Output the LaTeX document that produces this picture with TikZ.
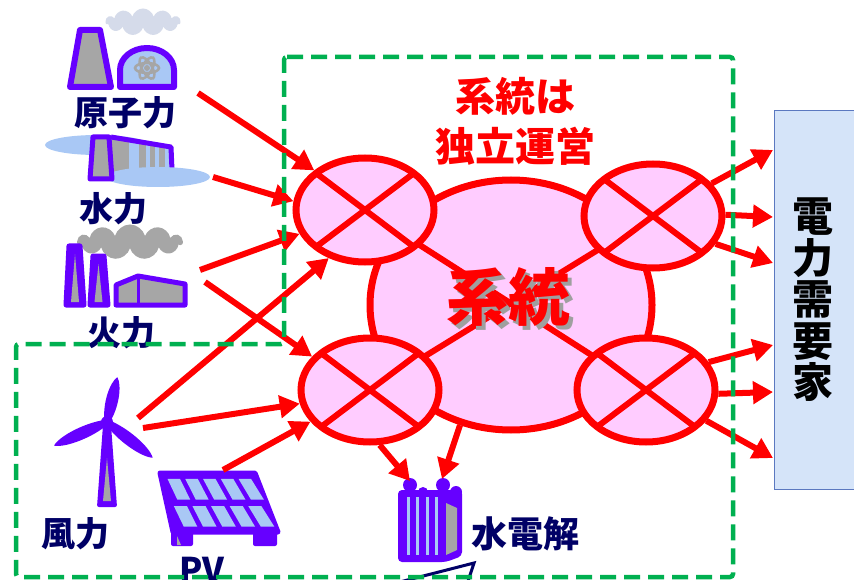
\documentclass[tikz,border=0pt]{standalone}
\usepackage{fontspec}
\setmainfont{Noto Sans CJK JP}
\usetikzlibrary{arrows.meta,shapes.geometric,shapes.symbols,calc}

\definecolor{gridred}{HTML}{FF0000}
\definecolor{busfill}{HTML}{FFCCFF}
\definecolor{zonegreen}{HTML}{00B050}
\definecolor{iconpurple}{HTML}{6600FF}
\definecolor{icongray}{HTML}{A6A6A6}
\definecolor{iconblue}{HTML}{A9C8F5}
\definecolor{labelnavy}{HTML}{000066}
\definecolor{demandfill}{HTML}{D5E4F9}
\definecolor{demandedge}{HTML}{5B78C0}
\definecolor{cloudgray}{HTML}{D5DBEA}

\tikzset{
  flow/.style={draw=gridred, line width=6pt, -{Triangle[length=20pt,width=22pt]}},
  bus/.style={ellipse, draw=gridred, fill=busfill, line width=7pt,
    minimum width=138pt, minimum height=104pt, inner sep=0pt},
  busline/.style={draw=gridred, line width=6pt},
  srclabel/.style={text=labelnavy, inner sep=0pt,
    font=\bfseries\fontsize{34pt}{40pt}\selectfont},
  iconline/.style={draw=iconpurple, line width=5pt, line join=round},
  puff/.style={cloud, cloud puffs=11, aspect=3, inner sep=0pt}
}

\begin{document}
\begin{tikzpicture}[x=1pt,y=-1pt]
\clip (0,0) rectangle (854,580);
\fill[white] (0,0) rectangle (854,580);

% ---------- nuclear ----------
\node[puff, fill=cloudgray, minimum width=75pt, minimum height=27pt] (nuccloud) at (143,22) {};
\draw[iconline, line width=6pt, fill=icongray] (80,30) -- (100,30) -- (111,87) -- (70,87) -- cycle;
\draw[iconline, line width=6pt, fill=iconblue] (120,87) -- (120,70)
  arc[start angle=180, end angle=0, x radius=27pt, y radius=22pt] -- (174,87) -- cycle;
\begin{scope}[shift={(147,68)}]
  \foreach \a in {0,60,120}
    \draw[icongray, line width=2.5pt, rotate=\a] (0,0) ellipse[x radius=12pt, y radius=5pt];
  \fill[icongray] (0,0) circle[radius=3pt];
\end{scope}
\node[srclabel] (lnuc) at (125,113) {原子力};

% ---------- hydro ----------
\fill[iconblue] (97,145) ellipse[x radius=52pt, y radius=10pt];
\fill[iconblue] (111,137) -- (171,147) -- (172,170) -- (111,180) -- cycle;
\begin{scope}
  \clip (111,137) -- (171,147) -- (172,170) -- (111,180) -- cycle;
  \fill[icongray] (112,130) rectangle (129,185);
  \fill[icongray] (139,130) rectangle (146,185);
  \fill[icongray] (150,130) rectangle (155,185);
  \fill[icongray] (159,130) rectangle (165,185);
\end{scope}
\draw[iconline] (111,137) -- (171,147) -- (172,170);
\fill[iconblue] (158,177) ellipse[x radius=52pt, y radius=10pt];
\draw[iconline, fill=icongray] (93,137) -- (109,137) -- (112,179) -- (90,179) -- cycle;
\node[srclabel] (lhyd) at (113,209) {水力};

% ---------- thermal ----------
\node[puff, fill=icongray, minimum width=105pt, minimum height=35pt] (thmcloud) at (130,242) {};
\draw[iconline, fill=iconpurple] (69,246) -- (80,246) -- (84,305) -- (66,305) -- cycle;
\fill[icongray] (75,254) -- (79,302) -- (71,302) -- cycle;
\draw[iconline, fill=iconpurple] (93,256) -- (104,256) -- (108,305) -- (90,305) -- cycle;
\fill[icongray] (98.5,264) -- (102.5,302) -- (94.5,302) -- cycle;
\draw[iconline, fill=icongray] (116,285) -- (138,276) -- (185,284) -- (185,305) -- (116,305) -- cycle;
\draw[draw=iconpurple, line width=3pt] (138,277) -- (138,304);
\node[srclabel] (lthm) at (121,333) {火力};

% ---------- wind ----------
\fill[iconpurple, rounded corners=2pt] (103,425) -- (111,425) -- (117,507) -- (97,507) -- cycle;
\fill[icongray] (107,458) -- (111,501) -- (103,501) -- cycle;
\begin{scope}[shift={(107,422)}]
  \foreach \ang/\len in {77/46, 204/58, 322/58}
    \fill[iconpurple, rotate=\ang] (0,-2.5) .. controls (0.35*\len,-8.5) and (0.85*\len,-6.5) .. (\len,0)
      .. controls (0.85*\len,6.5) and (0.35*\len,8.5) .. (0,2.5) -- cycle;
  \fill[iconpurple] (0,0) circle[radius=6pt];
\end{scope}
\node[srclabel] (lwind) at (75,534) {風力};

% ---------- PV ----------
\coordinate (pvTL) at (160,473);
\coordinate (pvTR) at (255,473);
\coordinate (pvBR) at (278,532);
\coordinate (pvBL) at (173,532);
\fill[iconpurple, rounded corners=2pt] (171,530) rectangle (193,546);
\fill[iconpurple, rounded corners=2pt] (253,530) rectangle (277,546);
\fill[icongray] (177,536) -- (181,545) -- (177,545) -- cycle;
\draw[iconline, fill=iconpurple] (pvTL) -- (pvTR) -- (pvBR) -- (pvBL) -- cycle;
\foreach \c in {0,...,4}
  \foreach \r in {0,1} {
    \pgfmathsetmacro{\ua}{0.065+0.185*\c}
    \pgfmathsetmacro{\ub}{\ua+0.13}
    \pgfmathsetmacro{\uc}{\ua+0.05}
    \pgfmathsetmacro{\ud}{\ub+0.05}
    \pgfmathsetmacro{\va}{0.1+0.46*\r}
    \pgfmathsetmacro{\vb}{\va+0.35}
    \fill[iconblue]
      ($ ($(pvTL)!\va!(pvBL)$)!\ua!($(pvTR)!\va!(pvBR)$) $) --
      ($ ($(pvTL)!\va!(pvBL)$)!\ub!($(pvTR)!\va!(pvBR)$) $) --
      ($ ($(pvTL)!\vb!(pvBL)$)!\ud!($(pvTR)!\vb!(pvBR)$) $) --
      ($ ($(pvTL)!\vb!(pvBL)$)!\uc!($(pvTR)!\vb!(pvBR)$) $) -- cycle;
  }
\node[srclabel] (lpv) at (202,570) {PV};

% ---------- electrolyser ----------
\fill[iconpurple, rounded corners=4pt] (398,490) -- (462,490) -- (462,556) -- (446,562) -- (398,562) -- cycle;
\fill[iconpurple] (410,485) circle[radius=7pt] (423,492) circle[radius=5pt]
  (443,485) circle[radius=7pt] (456,492) circle[radius=6pt];
\foreach \sx in {408,417,427,436}
  \fill[iconblue] (\sx-1.5,497) rectangle (\sx+1.5,555);
\fill[icongray] (446,503) -- (457,508) -- (457,550) -- (446,555) -- cycle;
\node[srclabel, font=\bfseries\fontsize{36pt}{40pt}\selectfont] (lely) at (525,534) {水電解};
\draw[labelnavy, line width=3pt] (392,584) -- (474,563) -- (467,584);

% ---------- grid ----------
\node[ellipse, draw=gridred, fill=busfill, line width=7pt, minimum width=282pt,
  minimum height=250pt, inner sep=0pt] (blob) at (511,305) {};
\coordinate (ctl) at (365,210);
\coordinate (ctr) at (653,216);
\coordinate (cbl) at (370,390);
\coordinate (cbr) at (646,390);
\draw[busline] (ctl) -- (cbr);
\draw[busline] (cbl) -- (ctr);
\foreach \n in {tl,tr,bl,br} {
  \node[bus] (\n) at (c\n) {};
  \draw[busline] ($(\n.center)+(135:69pt and 52pt)$) -- ($(\n.center)+(-45:69pt and 52pt)$);
  \draw[busline] ($(\n.center)+(45:69pt and 52pt)$) -- ($(\n.center)+(-135:69pt and 52pt)$);
}
\node[text=gray!75, font=\bfseries\fontsize{62pt}{62pt}\selectfont, inner sep=0pt] (sysshadow) at (512,301) {系統};
\node[text=gridred, font=\bfseries\fontsize{62pt}{62pt}\selectfont, inner sep=0pt] (sys) at (508,297) {系統};
\node[text=gridred, font=\bfseries\fontsize{40pt}{50pt}\selectfont, align=center, inner sep=0pt] (title) at (515,121) {系統は\\独立運営};

% ---------- demand ----------
\node[draw=demandedge, fill=demandfill, line width=1.2pt, minimum width=84pt,
  minimum height=379pt, anchor=north west, inner sep=0pt] (dem) at (774,110) {};
\node[font=\bfseries\fontsize{41pt}{41.5pt}\selectfont, align=center, inner sep=0pt] (demtxt) at (813,300)
  {電\\力\\需\\要\\家};

% ---------- flows ----------
\coordinate (snuc) at (198,93);
\coordinate (shyd) at (213,177);
\coordinate (sthmA) at (200,270);
\coordinate (sthmB) at (205,282);
\coordinate (swindA) at (138,418);
\coordinate (swindB) at (143,428);
\coordinate (spv) at (223,470);
\draw[flow] (snuc) -- (tl.142);
\draw[flow] (shyd) -- (tl.173);
\draw[flow] (sthmA) -- (tl.200);
\draw[flow] (swindA) -- (tl.233);
\draw[flow] (sthmB) -- (bl.150);
\draw[flow] (swindB) -- (bl.191);
\draw[flow] (spv) -- (bl.208);

\coordinate (dA) at (773,150);
\coordinate (dB) at (773,217);
\coordinate (dC) at (773,263);
\coordinate (dD) at (773,345);
\coordinate (dE) at (773,392);
\coordinate (dF) at (773,458);
\draw[flow] (tr.29) -- (dA);
\draw[flow] (tr.1) -- (dB);
\draw[flow] (tr.-24) -- (dC);
\draw[flow] (br.24) -- (dD);
\draw[flow] (br.-3) -- (dE);
\draw[flow] (br.-27) -- (dF);

\coordinate (elyA) at (410,481);
\coordinate (elyB) at (442,479);
\draw[flow] (bl.-80) -- (elyA);
\draw[flow] (blob.247) -- (elyB);

% ---------- independently operated zone ----------
\draw[zonegreen, line width=4.5pt, dash pattern=on 16pt off 8pt, rounded corners=3pt]
  (284,57) -- (733,57) -- (733,577) -- (16,577) -- (16,344) -- (284,344) -- cycle;
\end{tikzpicture}
\end{document}
